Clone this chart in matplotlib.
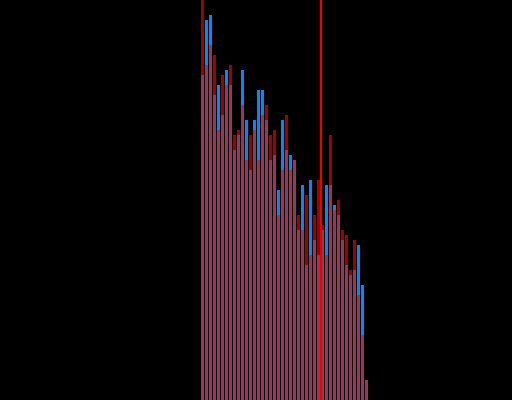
import numpy as np
import matplotlib.pyplot as plt

# histogram counts per bin
blue_counts = [65, 76, 77, 61, 63, 57, 66, 63, 50, 53, 66, 56, 46, 56, 62, 62, 56, 48, 49, 42, 56,
               50, 49, 48, 34, 43, 27, 44, 32, 29, 34, 43, 43, 39, 37, 32, 27, 25, 26, 31, 23, 4]
red_counts = [85, 67, 71, 69, 54, 65, 63, 67, 53, 54, 59, 48, 53, 54, 48, 57, 59, 53, 54, 37, 46,
              57, 46, 48, 37, 34, 41, 29, 37, 44, 35, 29, 53, 38, 40, 34, 33, 26, 32, 21, 13, 4]
bins = np.arange(len(blue_counts))
marker_x = 29.9

fig = plt.figure(figsize=(5.12, 4.0), dpi=100, facecolor="black")
ax = fig.add_axes([0, 0, 1, 1])
ax.set_facecolor("black")

ax.bar(bins, blue_counts, width=0.75, align="edge", color="#0088ff", linewidth=0)
ax.bar(bins, red_counts, width=0.75, align="edge", color="#ff0000", alpha=0.63, linewidth=0)
ax.axvline(marker_x, color="#ee0000", lw=1.5)

ax.set_xlim(-50.25, 77.75)
ax.set_ylim(0, 80)
ax.axis("off")

fig.savefig("out.png", dpi=100, facecolor="black")
